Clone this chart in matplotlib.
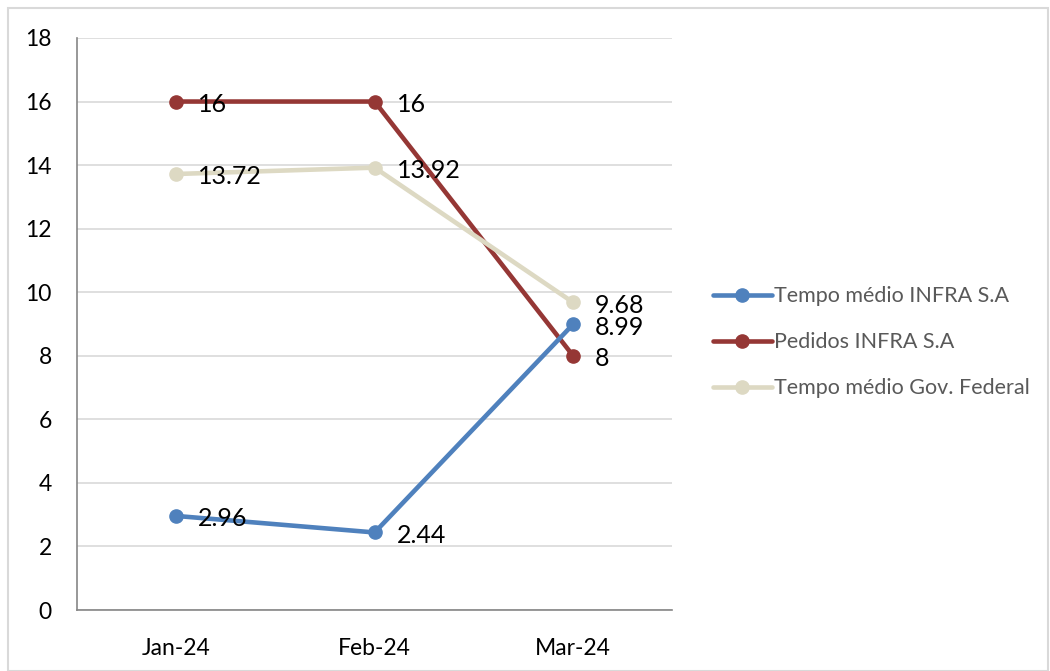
import matplotlib.pyplot as plt
from matplotlib.patches import Rectangle

# Monthly figures
months = ["Jan-24", "Feb-24", "Mar-24"]
tempo_infra = [2.96, 2.44, 8.99]
pedidos_infra = [16, 16, 8]
tempo_gov = [13.72, 13.92, 9.68]

plt.rcParams['font.family'] = ['Lato', 'DejaVu Sans']

fig = plt.figure(figsize=(10.5, 6.71), dpi=100)
ax = fig.add_axes([0.0733, 0.0909, 0.567, 0.8525])

x = list(range(len(months)))

series = [
    ("Tempo médio INFRA S.A", tempo_infra, "#4F81BD", 3),
    ("Pedidos INFRA S.A", pedidos_infra, "#953735", 2),
    ("Tempo médio Gov. Federal", tempo_gov, "#DDD9C3", 4),
]

handles = []
for name, vals, color, z in series:
    h, = ax.plot(x, vals, color=color, lw=3.3, marker="o", markersize=9.5,
                 solid_capstyle="round", zorder=z, label=name)
    handles.append(h)
    for xi, v in zip(x, vals):
        ax.annotate(f"{v:g}", (xi, v), xytext=(22, -3),
                    textcoords="offset pixels", ha="left", va="center",
                    fontsize=18, color="black", zorder=6)

ax.set_xlim(-0.5, 2.5)
ax.set_ylim(0, 18)
ax.set_yticks(range(0, 19, 2))
ax.set_xticks(x)
ax.set_xticklabels(months)
ax.tick_params(axis="both", length=0, labelsize=16.5, colors="black")
ax.tick_params(axis="y", pad=18)
ax.tick_params(axis="x", pad=20)
ax.grid(axis="y", color="#D9D9D9", lw=1.2, zorder=0)
ax.set_axisbelow(True)
for s in ["top", "right"]:
    ax.spines[s].set_visible(False)
for s in ["left", "bottom"]:
    ax.spines[s].set_color("#868686")
    ax.spines[s].set_linewidth(1.2)

leg = fig.legend(handles=handles, loc="center left",
                 bbox_to_anchor=(0.661, 0.49), frameon=False,
                 fontsize=15.5, handlelength=2.7, handletextpad=0.1,
                 labelspacing=1.2, labelcolor="#595959")

# Light frame round the whole chart
fig.patches.append(Rectangle((8 / 1050, 0), 1 - 8 / 1050 - 2 / 1050, 1 - 8 / 671,
                             transform=fig.transFigure, fill=False,
                             edgecolor="#D9D9D9", lw=1.5))

fig.savefig("out.png", dpi=100)
